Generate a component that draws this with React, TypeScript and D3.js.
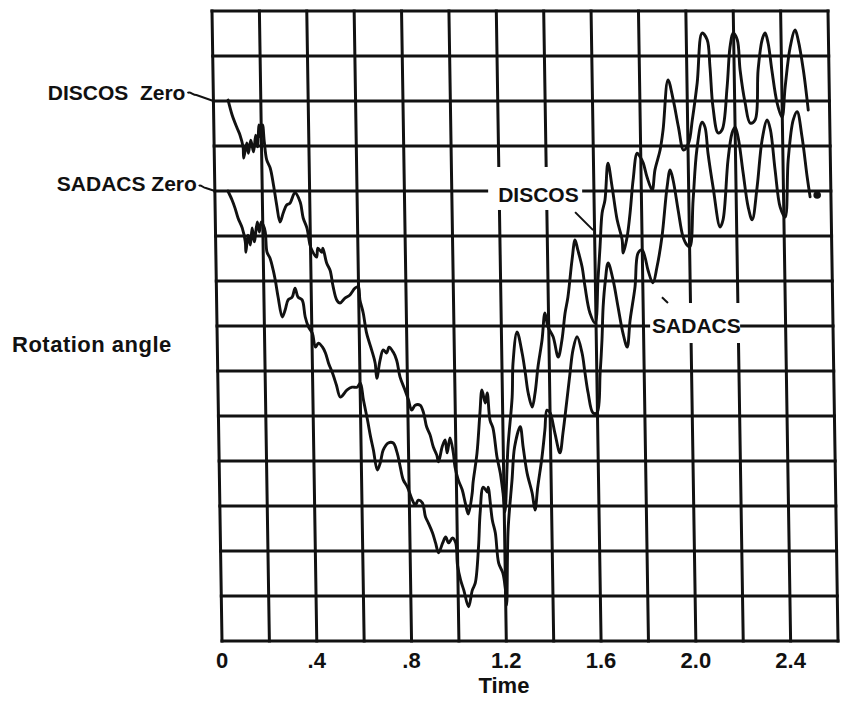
import React from "react";
import * as d3 from "d3";

// rotation angle is read in grid divisions, each trace measured from its own zero line
const DISCOS_ZERO = 12;
const SADACS_ZERO = 10;

const tickValues = [0, 0.4, 0.8, 1.2, 1.6, 2.0, 2.4];
const tickLabels = ["0", ".4", ".8", "1.2", "1.6", "2.0", "2.4"];

// [time, rotation angle]
const discos: [number, number][] = [
  [0.062, 0.02], [0.078, -0.31], [0.098, -0.6], [0.11, -0.76], [0.122, -1.02],
  [0.124, -1.27], [0.138, -0.93], [0.144, -1.16], [0.155, -0.87], [0.166, -1.13],
  [0.176, -0.76], [0.183, -1.02], [0.191, -0.53], [0.198, -0.82], [0.206, -0.53],
  [0.212, -0.91], [0.221, -1.31], [0.235, -1.49], [0.248, -1.87], [0.26, -2.31],
  [0.273, -2.69], [0.287, -2.49], [0.302, -2.31], [0.316, -2.27], [0.338, -2.04],
  [0.359, -2.24], [0.371, -2.6], [0.386, -2.82], [0.398, -3.2], [0.405, -3.31],
  [0.425, -3.47], [0.431, -3.27], [0.447, -3.36], [0.452, -3.27], [0.467, -3.6],
  [0.481, -3.76], [0.493, -4.13], [0.507, -4.42], [0.521, -4.49], [0.542, -4.38],
  [0.563, -4.31], [0.585, -4.16], [0.599, -4.13], [0.605, -4.42], [0.618, -4.71],
  [0.631, -5.16], [0.651, -5.53], [0.665, -5.82], [0.671, -6.16], [0.686, -5.76],
  [0.7, -5.53], [0.714, -5.6], [0.725, -5.47], [0.742, -5.58], [0.756, -5.76],
  [0.769, -6.13], [0.789, -6.42], [0.803, -6.64], [0.816, -6.87], [0.831, -6.76],
  [0.852, -6.76], [0.866, -6.93], [0.878, -7.24], [0.892, -7.42], [0.905, -7.69],
  [0.919, -7.87], [0.926, -8.02], [0.942, -7.69], [0.955, -7.53], [0.963, -7.82],
  [0.976, -7.49], [0.989, -7.82], [0.995, -8.13], [1.008, -8.42], [1.024, -8.64],
  [1.036, -8.93], [1.048, -9.18], [1.066, -8.71], [1.07, -8.49], [1.089, -7.82],
  [1.104, -6.93], [1.114, -6.42], [1.127, -6.71], [1.136, -6.49], [1.146, -7.09],
  [1.158, -7.27], [1.173, -7.91], [1.186, -8.27], [1.196, -8.71], [1.203, -9.13],
  [1.22, -7.69], [1.241, -6.58], [1.247, -5.82], [1.266, -5.13], [1.286, -5.6],
  [1.298, -6.04], [1.309, -6.49], [1.325, -6.8], [1.338, -6.49], [1.352, -5.91],
  [1.371, -5.31], [1.385, -4.71], [1.397, -5.02], [1.418, -5.24], [1.438, -5.69],
  [1.455, -5.31], [1.47, -4.71], [1.483, -4.36], [1.503, -3.53], [1.517, -3.09],
  [1.528, -3.31], [1.545, -3.69], [1.556, -4.13], [1.575, -4.71], [1.596, -4.93],
  [1.611, -3.98], [1.622, -3.24], [1.633, -2.49], [1.646, -2.2], [1.661, -1.38],
  [1.677, -1.91], [1.696, -2.64], [1.716, -3.09], [1.719, -3.38], [1.737, -3.02],
  [1.751, -2.49], [1.766, -1.76], [1.785, -1.16], [1.797, -1.24], [1.81, -1.38],
  [1.825, -1.69], [1.846, -1.98], [1.859, -1.53], [1.882, -1.09], [1.896, -0.64],
  [1.92, 0.47], [1.941, 0.02], [1.961, -0.58], [1.981, -1.09], [2.003, -0.93],
  [2.02, -0.42], [2.043, 0.4], [2.067, 1.51], [2.088, 1.36], [2.098, 0.76],
  [2.108, -0.13], [2.128, -0.71], [2.145, -0.64], [2.169, 0.31], [2.184, 1.2],
  [2.198, 1.51], [2.215, 1.36], [2.225, 0.69], [2.244, -0.04], [2.264, -0.49],
  [2.285, -0.42], [2.301, 0.69], [2.32, 1.36], [2.333, 1.51], [2.345, 1.29],
  [2.359, 0.69], [2.379, -0.04], [2.399, -0.36], [2.414, 0.31], [2.438, 1.2],
  [2.46, 1.58], [2.472, 1.36], [2.492, 0.69], [2.51, -0.2],
];

const sadacs: [number, number][] = [
  [0.055, 0], [0.072, -0.2], [0.084, -0.38], [0.096, -0.6], [0.113, -0.82],
  [0.125, -1.13], [0.127, -1.36], [0.137, -0.98], [0.146, -1.2], [0.155, -0.82],
  [0.163, -1.13], [0.177, -0.69], [0.185, -0.91], [0.194, -0.69], [0.202, -0.76],
  [0.21, -0.91], [0.216, -1.36], [0.228, -1.49], [0.241, -1.76], [0.249, -1.98],
  [0.26, -2.36], [0.276, -2.8], [0.289, -2.64], [0.302, -2.42], [0.319, -2.36],
  [0.332, -2.16], [0.344, -2.36], [0.361, -2.42], [0.373, -2.8], [0.386, -3.02],
  [0.402, -3.16], [0.414, -3.47], [0.427, -3.38], [0.444, -3.47], [0.456, -3.6],
  [0.468, -3.82], [0.484, -4.04], [0.5, -4.31], [0.516, -4.58], [0.545, -4.42],
  [0.566, -4.36], [0.587, -4.36], [0.601, -4.27], [0.613, -4.64], [0.629, -5.09],
  [0.641, -5.47], [0.652, -5.76], [0.667, -6.2], [0.68, -6.04], [0.693, -5.76],
  [0.715, -5.6], [0.736, -5.6], [0.752, -5.82], [0.764, -6.13], [0.776, -6.42],
  [0.793, -6.58], [0.813, -6.87], [0.825, -6.98], [0.838, -6.87], [0.855, -6.93],
  [0.867, -7.24], [0.879, -7.38], [0.896, -7.6], [0.908, -7.82], [0.92, -8.04],
  [0.938, -7.82], [0.951, -7.69], [0.963, -7.82], [0.98, -7.71], [0.993, -7.82],
  [0.999, -8.31], [1.011, -8.64], [1.024, -8.87], [1.043, -9.24], [1.06, -8.87],
  [1.073, -8.71], [1.089, -7.91], [1.098, -7.16], [1.113, -6.58], [1.13, -6.69],
  [1.134, -6.58], [1.149, -7.31], [1.161, -7.6], [1.173, -8.27], [1.19, -8.49],
  [1.2, -8.87], [1.204, -9.2], [1.215, -7.53], [1.235, -6.42], [1.248, -5.69],
  [1.273, -5.24], [1.284, -5.69], [1.299, -6.27], [1.319, -6.71], [1.33, -7.09],
  [1.343, -6.58], [1.363, -5.91], [1.377, -5.31], [1.387, -4.87], [1.4, -4.93],
  [1.419, -5.38], [1.439, -5.82], [1.453, -5.38], [1.472, -4.64], [1.487, -4.04],
  [1.501, -3.53], [1.519, -3.24], [1.539, -3.6], [1.55, -4.04], [1.562, -4.49],
  [1.581, -4.93], [1.598, -4.93], [1.614, -4.04], [1.624, -3.31], [1.631, -2.58],
  [1.642, -2.0], [1.655, -1.6], [1.675, -1.98], [1.694, -2.58], [1.713, -3.16],
  [1.73, -3.47], [1.744, -2.87], [1.767, -2.13], [1.782, -1.38], [1.799, -1.31],
  [1.811, -1.47], [1.823, -1.76], [1.843, -2.04], [1.861, -1.69], [1.884, -1.02],
  [1.909, 0.09], [1.923, 0.47], [1.935, 0.24], [1.954, -0.42], [1.973, -1.02],
  [1.989, -1.2], [2.001, -1.24], [2.018, -0.2], [2.037, 0.91], [2.061, 1.53],
  [2.073, 1.42], [2.084, 0.84], [2.103, 0.09], [2.13, -0.8], [2.143, -0.64],
  [2.168, 0.69], [2.187, 1.29], [2.2, 1.42], [2.212, 1.2], [2.231, 0.4],
  [2.25, -0.36], [2.266, -0.64], [2.289, 0.09], [2.313, 1.13], [2.336, 1.58],
  [2.349, 1.36], [2.366, 0.47], [2.385, -0.36], [2.405, -0.58], [2.422, 0.69],
  [2.446, 1.58], [2.463, 1.76], [2.482, 1.2], [2.501, 0.31], [2.512, -0.13],
];

const sadacsEnd: [number, number] = [2.542, -0.09];

const width = 842;
const height = 701;
const left = 222;
const right = 838;
const top = 11;
const bottom = 641;
// the scanned grid leans: its top edge sits ~10px left of the bottom edge
const lean = 10 / (bottom - top);

const font = "'Liberation Sans', Arial, Helvetica, sans-serif";

export default function App() {
  const x = d3.scaleLinear().domain([0, 2.6]).range([left, right]);
  const y = d3.scaleLinear().domain([0, 14]).range([bottom, top]);
  // page position of (time, grid division)
  const px = (t: number, u: number) => x(t) - (bottom - y(u)) * lean;

  const line = d3.line().curve(d3.curveCatmullRom.alpha(0.5));
  const trace = (data: [number, number][], zero: number) =>
    line(data.map(([t, a]) => [px(t, zero + a), y(zero + a)] as [number, number]));

  const vLines = d3.range(14).map((i) => i * 0.2);
  const hLines = d3.range(15);

  // in-plot labels and their pointers
  const discosLab = [px(1.195, 9.756), y(9.756)];
  const sadacsLab = [px(1.836, 6.844), y(6.844)];
  const discosZ = [px(0, DISCOS_ZERO), y(DISCOS_ZERO)];
  const sadacsZ = [px(0, SADACS_ZERO), y(SADACS_ZERO)];

  const textStyle = { fontFamily: font, fontWeight: 700 as const, fill: "#111" };

  return (
    <svg
      width={width}
      height={height}
      style={{ position: "absolute", left: 0, top: 0, background: "#fff" }}
    >
      {/* grid */}
      <g stroke="#111" strokeWidth={3} strokeLinecap="square">
        {vLines.map((t) => (
          <line key={`v${t}`} x1={px(t, 0)} y1={y(0)} x2={px(t, 14)} y2={y(14)} />
        ))}
        {hLines.map((u) => (
          <line key={`h${u}`} x1={px(0, u)} y1={y(u)} x2={px(2.6, u)} y2={y(u)} />
        ))}
      </g>

      {/* knock-outs behind in-plot labels */}
      <rect x={discosLab[0] - 10} y={discosLab[1] - 35} width={94} height={43} fill="#fff" />
      <rect x={sadacsLab[0] - 2} y={sadacsLab[1] - 30} width={90} height={40} fill="#fff" />

      {/* traces */}
      <g fill="none" stroke="#111" strokeWidth={2.9} strokeLinejoin="round" strokeLinecap="round">
        <path d={trace(discos, DISCOS_ZERO) || ""} />
        <path d={trace(sadacs, SADACS_ZERO) || ""} />
      </g>
      <circle
        cx={px(sadacsEnd[0], SADACS_ZERO + sadacsEnd[1])}
        cy={y(SADACS_ZERO + sadacsEnd[1])}
        r={3.8}
        fill="#111"
      />

      {/* pointers */}
      <g fill="none" stroke="#111" strokeWidth={2}>
        <line
          x1={px(1.519, 9.53)} y1={y(9.53)}
          x2={px(1.594, 9.13)} y2={y(9.13)}
        />
        <line
          x1={px(1.88, 7.64)} y1={y(7.64)}
          x2={px(1.905, 7.51)} y2={y(7.51)}
        />
        <path
          d={`M${discosZ[0] - 26},${discosZ[1] - 8} c3,-2 5,2 9,2 L${discosZ[0]},${discosZ[1]}`}
        />
        <path
          d={`M${sadacsZ[0] - 16},${sadacsZ[1] - 5} c2,-2 4,2 7,2 L${sadacsZ[0]},${sadacsZ[1]}`}
        />
      </g>

      {/* labels */}
      <text x={discosZ[0] - 28} y={discosZ[1] - 1} textAnchor="end" fontSize={21} style={{ ...textStyle, whiteSpace: "pre" }}>
        {"DISCOS  Zero"}
      </text>
      <text x={sadacsZ[0] - 18} y={sadacsZ[1]} textAnchor="end" fontSize={21} style={textStyle}>
        SADACS Zero
      </text>
      <text x={12} y={352} fontSize={22} letterSpacing={0.5} style={textStyle}>
        Rotation angle
      </text>
      <text x={discosLab[0]} y={discosLab[1]} fontSize={21} style={textStyle}>
        DISCOS
      </text>
      <text x={sadacsLab[0]} y={sadacsLab[1]} fontSize={21} style={textStyle}>
        SADACS
      </text>

      {tickValues.map((t, i) => (
        <text key={t} x={x(t)} y={668} textAnchor="middle" fontSize={22} style={textStyle}>
          {tickLabels[i]}
        </text>
      ))}
      <text x={x(1.19)} y={693} textAnchor="middle" fontSize={22} style={textStyle}>
        Time
      </text>
    </svg>
  );
}
